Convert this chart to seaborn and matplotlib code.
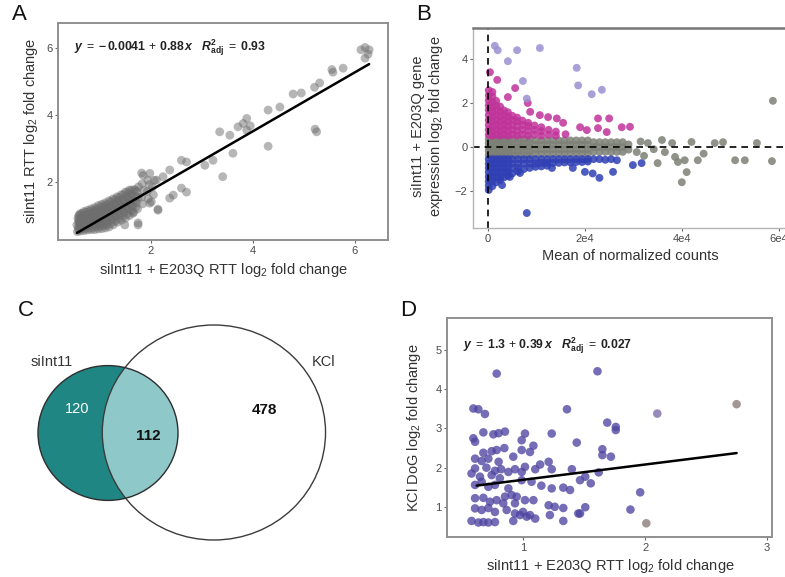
import numpy as np
import pandas as pd
import matplotlib
matplotlib.use("Agg")
import matplotlib.pyplot as plt
from matplotlib.patches import Ellipse
import seaborn as sns

sns.set_style("white")
plt.rcParams["font.family"] = ["Liberation Sans", "DejaVu Sans"]
plt.rcParams["mathtext.fontset"] = "custom"
plt.rcParams["mathtext.rm"] = "Liberation Sans"
plt.rcParams["mathtext.it"] = "Liberation Sans:italic"
plt.rcParams["mathtext.bf"] = "Liberation Sans:bold"
plt.rcParams["mathtext.bfit"] = "Liberation Sans:bold:italic"

# ---------------- Panel A: RTT fold change, siInt11 vs siInt11 + E203Q ----------------
a_x = [0.56, 0.58, 0.55, 0.59, 0.57, 0.60,
       0.62, 0.64, 0.61, 0.63, 0.65, 0.62,
       0.69, 0.67, 0.70, 0.68, 0.71, 0.69,
       0.76, 0.74, 0.77, 0.75, 0.78, 0.76,
       0.83, 0.81, 0.84, 0.82, 0.85, 0.83,
       0.90, 0.88, 0.91, 0.89, 0.92, 0.90,
       0.97, 0.95, 0.98, 0.96, 0.99, 0.97,
       1.04, 1.02, 1.05, 1.03, 1.06, 1.04,
       1.11, 1.09, 1.12, 1.10, 1.13, 1.11,
       1.18, 1.16, 1.19, 1.17, 1.20, 1.18,
       1.26, 1.24, 1.27, 1.25, 1.28, 1.26,
       1.34, 1.32, 1.35, 1.33, 1.36, 1.34,
       1.42, 1.40, 1.43, 1.41, 1.44, 1.42,
       1.50, 1.48, 1.51, 1.49, 1.52, 1.50,
       1.58, 1.56, 1.59, 1.57, 1.60, 1.58,
       1.66, 1.64, 1.67, 1.65, 1.68,
       1.74, 1.72, 1.75, 1.73, 1.76,
       1.84, 1.82, 1.86, 1.83,
       1.95, 1.93, 1.97, 1.94,
       2.05, 2.03, 2.07,
       # sparse points along the upper range
       6.12, 6.20, 6.28, 6.26, 6.20, 5.77, 5.57, 5.55, 5.31, 5.21, 4.95, 4.79,
       5.25, 5.22, 4.53, 4.30, 4.30, 3.88, 3.81, 3.71, 3.88, 3.95, 3.55, 3.35,
       3.61, 3.41, 3.06, 3.22, 2.60, 2.70, 2.60, 2.70, 2.44, 2.37, 2.14, 2.01,
       2.37, 2.24, 2.11, 1.98, 1.85, 1.75, 1.49, 1.65, 1.82, 1.98, 2.14, 1.75]
a_y = [0.52, 0.62, 0.72, 0.82, 0.92, 1.02,
       0.54, 0.64, 0.75, 0.86, 0.97, 1.06,
       0.55, 0.66, 0.78, 0.90, 1.01, 1.12,
       0.57, 0.68, 0.80, 0.92, 1.04, 1.16,
       0.58, 0.70, 0.82, 0.95, 1.08, 1.20,
       0.58, 0.72, 0.86, 0.99, 1.12, 1.24,
       0.60, 0.74, 0.88, 1.02, 1.16, 1.30,
       0.61, 0.76, 0.91, 1.06, 1.21, 1.34,
       0.63, 0.78, 0.94, 1.10, 1.25, 1.38,
       0.66, 0.82, 0.98, 1.14, 1.30, 1.44,
       0.72, 0.88, 1.04, 1.20, 1.36, 1.50,
       0.80, 0.96, 1.12, 1.28, 1.44, 1.56,
       0.86, 1.02, 1.18, 1.34, 1.50, 1.62,
       0.92, 1.10, 1.26, 1.42, 1.58, 1.70,
       1.00, 1.18, 1.34, 1.50, 1.66, 1.76,
       1.10, 1.28, 1.44, 1.60, 1.78,
       1.20, 1.38, 1.54, 1.72, 1.86,
       1.35, 1.55, 1.75, 1.95,
       1.50, 1.72, 1.92, 2.06,
       1.62, 1.85, 2.05,
       5.95, 6.02, 5.95, 5.82, 5.70, 5.40, 5.28, 5.36, 4.96, 4.83, 4.66, 4.63,
       3.50, 3.58, 4.24, 4.15, 3.07, 3.90, 3.75, 3.65, 3.55, 3.68, 3.40, 3.50,
       2.86, 2.16, 2.50, 2.65, 2.65, 2.60, 1.82, 1.70, 1.61, 1.52, 1.19, 1.41,
       2.36, 2.16, 2.06, 2.26, 2.20, 0.72, 0.72, 1.07, 2.27, 1.37, 1.16, 0.78]
# genes packed inside the dense low-fold-change cloud
a_core_x = [0.59] * 5 + [0.655] * 5 + [0.725] * 5 + [0.795] * 5 + [0.865] * 5 \
    + [0.935] * 5 + [1.005] * 5 + [1.075] * 5 + [1.145] * 5 + [1.22] * 5 \
    + [1.30] * 5 + [1.38] * 5 + [1.46] * 5 + [1.54] * 5 + [1.62] * 5 + [1.70] * 4
a_core_y = [0.58, 0.68, 0.79, 0.90, 1.00,
            0.60, 0.71, 0.83, 0.94, 1.06,
            0.62, 0.73, 0.86, 0.97, 1.10,
            0.63, 0.75, 0.88, 1.00, 1.12,
            0.65, 0.78, 0.90, 1.03, 1.16,
            0.66, 0.80, 0.93, 1.07, 1.20,
            0.68, 0.82, 0.97, 1.12, 1.26,
            0.70, 0.85, 1.00, 1.16, 1.30,
            0.72, 0.88, 1.04, 1.20, 1.34,
            0.77, 0.93, 1.09, 1.25, 1.42,
            0.84, 1.00, 1.16, 1.32, 1.48,
            0.91, 1.07, 1.23, 1.39, 1.54,
            0.98, 1.14, 1.30, 1.46, 1.62,
            1.05, 1.22, 1.38, 1.54, 1.70,
            1.14, 1.30, 1.46, 1.62, 1.76,
            1.25, 1.42, 1.58, 1.75]
a_intercept, a_slope, a_r2 = -0.0041, 0.88, 0.93

# ---------------- Panel B: MA plot (mean counts vs log2 fold change) ----------------
b_up_x = [150] * 10 + [900] * 10 + [1700] * 8 + [2500] * 7 + [3300] * 6 + [4100] * 6 \
    + [5000] * 5 + [6000] * 5 + [7100] * 4 + [8300] * 4 + [9600] * 3 + [11000] * 3 \
    + [12500] * 2 + [14000] * 2 + [16000] \
    + [400, 1900, 4100, 5600, 8200, 8700, 10700, 12400, 14200, 15500, 19000, 20400,
       22700, 25000, 22700, 24500, 27600, 29300]
b_up_y = [0.55, 0.78, 1.00, 1.22, 1.45, 1.68, 1.90, 2.12, 2.35, 2.58,
          0.52, 0.74, 0.96, 1.18, 1.40, 1.62, 1.84, 2.06, 2.30, 2.50,
          0.56, 0.78, 1.00, 1.22, 1.44, 1.66, 1.88, 2.10,
          0.52, 0.74, 0.96, 1.18, 1.40, 1.62, 1.84,
          0.56, 0.78, 1.00, 1.22, 1.44, 1.66,
          0.52, 0.74, 0.96, 1.18, 1.40, 1.58,
          0.56, 0.78, 1.00, 1.22, 1.42,
          0.52, 0.74, 0.96, 1.18, 1.34,
          0.56, 0.78, 1.00, 1.20,
          0.52, 0.74, 0.96, 1.10,
          0.56, 0.78, 0.98,
          0.52, 0.72, 0.90,
          0.56, 0.78,
          0.52, 0.70,
          0.58,
          3.40, 3.05, 2.27, 2.68, 2.00, 1.60, 1.45, 1.36, 1.30, 1.10, 0.90, 0.77,
          1.30, 1.30, 0.86, 0.68, 0.90, 0.92]
b_down_x = [150] * 8 + [900] * 7 + [1700] * 6 + [2500] * 6 + [3300] * 5 + [4100] * 5 \
    + [5000] * 4 + [6200] * 4 + [7400] * 3 + [8600] * 3 + [9800] * 3 + [11000] * 3 \
    + [12200] * 3 + [13400] * 2 + [14600] * 2 + [15800] * 2 + [17000] * 2 \
    + [18200] * 2 + [19400] * 2 + [20600] * 2 \
    + [21800, 23000, 24200, 25400, 26600] \
    + [2900, 4500, 6600, 8000, 13200, 17500, 20000, 21600, 23000, 25800, 29900, 31700]
b_down_y = [-0.55, -0.75, -0.95, -1.15, -1.35, -1.55, -1.75, -1.95,
            -0.55, -0.75, -0.95, -1.15, -1.35, -1.55, -1.78,
            -0.55, -0.75, -0.95, -1.15, -1.35, -1.60,
            -0.55, -0.75, -0.95, -1.15, -1.38, -1.50,
            -0.55, -0.75, -0.95, -1.15, -1.38,
            -0.55, -0.75, -0.95, -1.15, -1.30,
            -0.55, -0.75, -0.95, -1.20,
            -0.55, -0.75, -0.95, -1.10,
            -0.55, -0.75, -1.00,
            -0.55, -0.75, -0.95,
            -0.55, -0.75, -0.90,
            -0.55, -0.72, -0.88,
            -0.55, -0.72, -0.85,
            -0.55, -0.72,
            -0.55, -0.72,
            -0.55, -0.70,
            -0.55, -0.70,
            -0.55, -0.68,
            -0.55, -0.68,
            -0.55, -0.66,
            -0.55, -0.55, -0.58, -0.55, -0.60,
            -1.73, -1.36, -1.18, -3.00, -0.95, -0.95, -1.13, -1.20, -1.40, -1.13,
            -0.82, -0.73]
b_ns_x = [150] * 5 + [900] * 5 + [1700] * 5 + [2500] * 5 + [3300] * 5 + [4100] * 5 \
    + [5000] * 5 + [6200] * 5 + [7400] * 5 + [8600] * 5 + [9800] * 4 + [11000] * 4 \
    + [12200] * 4 + [13400] * 4 + [14600] * 4 + [15800] * 4 + [17000] * 4 \
    + [18200] * 4 + [19400] * 4 + [20600] * 4 + [21800] * 3 + [23000] * 3 \
    + [24200] * 3 + [25400] * 3 + [26600] * 3 + [27800] * 3 + [29000] * 2 \
    + [30700, 33000, 35000, 36500, 38600, 39200, 40600, 41000, 42000, 43300,
       46800, 51000, 53000, 55500, 58600, 58800, 35900, 38000, 40000, 31500,
       32200, 34200, 44500, 48500]
b_ns_y = [-0.36, -0.18, 0.0, 0.18, 0.36] * 10 + [-0.30, -0.10, 0.10, 0.30] * 10 \
    + [-0.22, 0.0, 0.22] * 6 + [-0.12, 0.12] \
    + [-0.23, 0.18, -0.73, -0.23, -0.45, -0.68, -0.60, -1.14, 0.23, -0.60,
       0.18, -0.60, -0.60, 0.18, -0.64, 2.10, 0.32, 0.18, -1.60, 0.25,
       -0.40, -0.10, -0.30, 0.22]
b_out_x = [1400, 2000, 4100, 6000, 10700, 18300, 18600, 21400, 23500, 8000, 7200]
b_out_y = [4.60, 4.40, 3.90, 4.40, 4.50, 3.60, 2.80, 2.40, 2.60, 2.20, 3.00]

# ---------------- Panel C: overlap of gene sets ----------------
venn_only_si = 120
venn_both = 112
venn_only_kcl = 478

# ---------------- Panel D: KCl DoG vs siInt11 + E203Q RTT ----------------
d_x = [0.784, 0.593, 0.634, 0.688, 0.675, 0.757, 0.800, 0.852, 1.016, 1.235,
       0.593, 0.607, 0.989, 1.085, 1.057, 0.989, 0.847, 0.784, 0.743, 0.675,
       0.607, 0.661, 0.716, 0.920, 0.800, 0.607, 0.700, 0.770, 0.820, 0.880,
       0.934, 0.989, 1.016, 1.100, 1.140, 1.210, 1.235, 1.400, 0.578, 0.647,
       0.743, 0.810, 0.607, 0.661, 0.716, 0.770, 0.880, 0.989, 1.070, 1.150,
       1.235, 1.330, 1.385, 0.607, 0.675, 0.729, 0.784, 0.852, 0.907, 0.948,
       0.838, 0.934, 1.016, 1.085, 1.210, 1.260, 0.607, 0.661, 0.716, 0.770,
       0.866, 0.934, 1.000, 1.057, 1.030, 1.100, 1.220, 1.330, 1.330, 0.578,
       0.634, 0.675, 0.716, 0.770, 0.920, 0.975, 1.360,
       1.610, 1.690, 1.760, 1.760, 1.440, 1.650, 1.650, 1.720, 1.620, 1.510,
       1.467, 1.555, 1.880, 1.510, 1.453, 1.467, 1.960,
       2.100, 2.750, 2.010]
d_y = [4.40, 3.51, 3.49, 3.37, 2.90, 2.85, 2.88, 2.92, 2.87, 2.87,
       2.75, 2.66, 2.70, 2.56, 2.40, 2.45, 2.50, 2.45, 2.42, 2.38,
       2.23, 2.17, 2.23, 2.28, 2.15, 1.98, 2.00, 1.92, 1.96, 1.89,
       1.96, 1.89, 2.02, 1.96, 2.08, 2.15, 1.96, 1.96, 1.85, 1.77,
       1.81, 1.73, 1.56, 1.64, 1.51, 1.56, 1.47, 1.68, 1.64, 1.54,
       1.47, 1.49, 1.43, 1.22, 1.23, 1.13, 1.17, 1.26, 1.30, 1.26,
       1.09, 1.09, 1.17, 1.17, 1.04, 1.00, 0.96, 0.92, 0.97, 0.87,
       0.92, 0.83, 0.87, 0.79, 0.75, 0.70, 0.79, 0.97, 0.64, 0.64,
       0.60, 0.61, 0.60, 0.61, 0.64, 0.79, 3.49,
       4.46, 3.15, 3.04, 2.96, 2.64, 2.47, 2.32, 2.28, 1.88, 1.77,
       1.68, 1.60, 0.93, 0.99, 0.83, 0.83, 1.37,
       3.38, 3.62, 0.58]
d_tone = ["dense"] * 104 + ["mid", "sparse", "sparse"]
d_intercept, d_slope, d_r2 = 1.3, 0.39, 0.027

# ---------------- figure ----------------
W, H = 785, 577
fig = plt.figure(figsize=(W / 100, H / 100), dpi=100)


def box(l, t, r, b):
    return [l / W, 1 - b / H, (r - l) / W, (b - t) / H]


def style_axes(ax, spine_color="#8f8f8f", lw=1.4):
    for s in ax.spines.values():
        s.set_color(spine_color)
        s.set_linewidth(lw)
    ax.tick_params(axis="both", which="both", direction="out", length=2.5, width=0.8,
                   color="#666666", labelsize=8, labelcolor="#4a4a4a", pad=1.5,
                   bottom=True, left=True)
    ax.set_xlabel("")
    ax.set_ylabel("")


def equation(b0, b1, r2):
    if b0 < 0:
        body = r"\mathbf{-\,%s}\,+\,\mathbf{%s}" % (abs(b0), b1)
    else:
        body = r"\mathbf{%s}\,+\,\mathbf{%s}" % (b0, b1)
    return (r"$\mathbfit{y}\;=\;" + body
            + r"\,\mathbfit{x}\quad\mathbfit{R}^{\mathbf{2}}_{\mathbf{adj}}\;=\;\mathbf{%s}$" % r2)


label_kw = dict(fontsize=10.5, color="#333333")
letter_kw = dict(fontsize=16, color="#111111")

# Panel A
axA = fig.add_axes(box(58, 23, 388, 240))
dfA = pd.concat([pd.DataFrame({"x": a_x, "y": a_y}),
                 pd.DataFrame({"x": a_core_x, "y": a_core_y})], ignore_index=True)
sns.scatterplot(data=dfA, x="x", y="y", ax=axA, s=40, color="#6e6e6e", alpha=0.5,
                edgecolor="none", legend=False)
fit_xa = [min(a_x), max(a_x)]
sns.lineplot(x=fit_xa, y=[a_intercept + a_slope * v for v in fit_xa], ax=axA,
             color="black", lw=1.8)
axA.set_xlim(0.18, 6.65)
axA.set_ylim(0.27, 6.75)
axA.set_xticks([2, 4, 6])
axA.set_yticks([2, 4, 6])
style_axes(axA)
axA.text(0.05, 0.885, equation(a_intercept, a_slope, a_r2),
         transform=axA.transAxes, fontsize=8.8, color="#222222", va="center")
fig.text(223 / W, 1 - 270 / H, r"siInt11 + E203Q RTT log$_2$ fold change",
         ha="center", va="center", **label_kw)
fig.text(31 / W, 1 - 131 / H, r"siInt11 RTT log$_2$ fold change", rotation=90,
         ha="center", va="center", **label_kw)
fig.text(12 / W, 1 - 14 / H, "A", ha="left", va="center", **letter_kw)

# Panel B
axB = fig.add_axes(box(473, 28, 786, 228))
dfB = pd.concat([
    pd.DataFrame({"mean": b_ns_x, "lfc": b_ns_y, "grp": "ns"}),
    pd.DataFrame({"mean": b_up_x, "lfc": b_up_y, "grp": "up"}),
    pd.DataFrame({"mean": b_down_x, "lfc": b_down_y, "grp": "down"}),
    pd.DataFrame({"mean": b_out_x, "lfc": b_out_y, "grp": "out"}),
], ignore_index=True)
palB = {"ns": "#7c8076", "up": "#c0339a", "down": "#2f3fb4", "out": "#9a90d2"}
sns.scatterplot(data=dfB, x="mean", y="lfc", hue="grp", palette=palB, ax=axB, s=32,
                alpha=0.85, edgecolor="none", legend=False)
axB.axhline(0, color="black", lw=1.2, ls=(0, (4, 3)))
axB.axvline(0, color="black", lw=1.2, ls=(0, (4, 3)))
axB.set_xlim(-3100, 61500)
axB.set_ylim(-3.68, 5.41)
axB.set_xticks([0, 20000, 40000, 60000])
axB.set_xticklabels(["0", "2e4", "4e4", "6e4"])
axB.set_yticks([-2, 0, 2, 4])
style_axes(axB, spine_color="#b5b5b5", lw=1.0)
axB.spines["top"].set_color("#777777")
axB.spines["top"].set_linewidth(1.8)
axB.spines["right"].set_visible(False)
fig.text(630 / W, 1 - 256 / H, "Mean of normalized counts", ha="center", va="center",
         **label_kw)
fig.text(428 / W, 1 - 126 / H, "siInt11 + E203Q gene\nexpression log$_2$ fold change",
         rotation=90, ha="center", va="center", linespacing=1.1, **label_kw)
fig.text(416 / W, 1 - 14 / H, "B", ha="left", va="center", **letter_kw)

# Panel C: area-proportional two-set diagram
axC = fig.add_axes([0, 0, 400 / W, 287 / H])
axC.set_xlim(0, 400)
axC.set_ylim(577, 290)
axC.axis("off")
n_si = venn_only_si + venn_both
n_kcl = venn_only_kcl + venn_both
k = 70.0 / np.sqrt(n_si)
r1, r2 = k * np.sqrt(n_si), k * np.sqrt(n_kcl)
target = np.pi * k * k * venn_both


def lens(d):
    a1 = r1 * r1 * np.arccos((d * d + r1 * r1 - r2 * r2) / (2 * d * r1))
    a2 = r2 * r2 * np.arccos((d * d + r2 * r2 - r1 * r1) / (2 * d * r2))
    a3 = 0.5 * np.sqrt((-d + r1 + r2) * (d + r1 - r2) * (d - r1 + r2) * (d + r1 + r2))
    return a1 + a2 - a3


lo, hi = r2 - r1 + 1e-6, r1 + r2 - 1e-6
for _ in range(80):
    mid = 0.5 * (lo + hi)
    if lens(mid) > target:
        lo = mid
    else:
        hi = mid
dist = 0.5 * (lo + hi)
sy = 0.963
c1 = (108.0, 433.0)
c2 = (108.0 + dist, 432.5)
big = Ellipse(c2, 2 * r2, 2 * r2 * sy, facecolor="white", edgecolor="none")
axC.add_patch(big)
small = Ellipse(c1, 2 * r1, 2 * r1 * sy, facecolor="#1f8684", edgecolor="none")
axC.add_patch(small)
inter = Ellipse(c1, 2 * r1, 2 * r1 * sy, facecolor="#8fc8c9", edgecolor="none")
axC.add_patch(inter)
inter.set_clip_path(big)
axC.add_patch(Ellipse(c2, 2 * r2, 2 * r2 * sy, facecolor="none", edgecolor="#3c3c3c", lw=1.0))
axC.add_patch(Ellipse(c1, 2 * r1, 2 * r1 * sy, facecolor="none", edgecolor="#2e2e2e", lw=1.0))
axC.text(52, 362, "siInt11", ha="center", va="center", **label_kw)
axC.text(324, 362, "KCl", ha="center", va="center", **label_kw)
axC.text(77, 409, str(venn_only_si), ha="center", va="center", fontsize=10.5, color="white")
axC.text(148, 436, str(venn_both), ha="center", va="center", fontsize=11,
         fontweight="bold", color="#111111")
axC.text(264, 410, str(venn_only_kcl), ha="center", va="center", fontsize=11,
         fontweight="bold", color="#111111")
fig.text(18 / W, 1 - 311 / H, "C", ha="left", va="center", **letter_kw)

# Panel D
axD = fig.add_axes(box(447, 318, 772, 537))
dfD = pd.DataFrame({"x": d_x, "y": d_y, "tone": d_tone})
sns.scatterplot(data=dfD, x="x", y="y", hue="tone",
                palette={"dense": "#4e44a0", "mid": "#7a68a6", "sparse": "#8a7a78"},
                ax=axD, s=38, alpha=0.78, edgecolor="none", legend=False)
fit_xd = [0.62, max(d_x)]
sns.lineplot(x=fit_xd, y=[d_intercept + d_slope * v for v in fit_xd], ax=axD,
             color="black", lw=1.8)
axD.set_xlim(0.377, 3.04)
axD.set_ylim(0.23, 5.82)
axD.set_xticks([1, 2, 3])
axD.set_yticks([1, 2, 3, 4, 5])
style_axes(axD)
axD.text(0.05, 0.875, equation(d_intercept, d_slope, d_r2),
         transform=axD.transAxes, fontsize=8.8, color="#222222", va="center")
fig.text(610 / W, 1 - 566 / H, r"siInt11 + E203Q RTT log$_2$ fold change",
         ha="center", va="center", **label_kw)
fig.text(414 / W, 1 - 428 / H, r"KCl DoG log$_2$ fold change", rotation=90,
         ha="center", va="center", **label_kw)
fig.text(400 / W, 1 - 310 / H, "D", ha="left", va="center", **letter_kw)

fig.savefig("out.png", dpi=100)
